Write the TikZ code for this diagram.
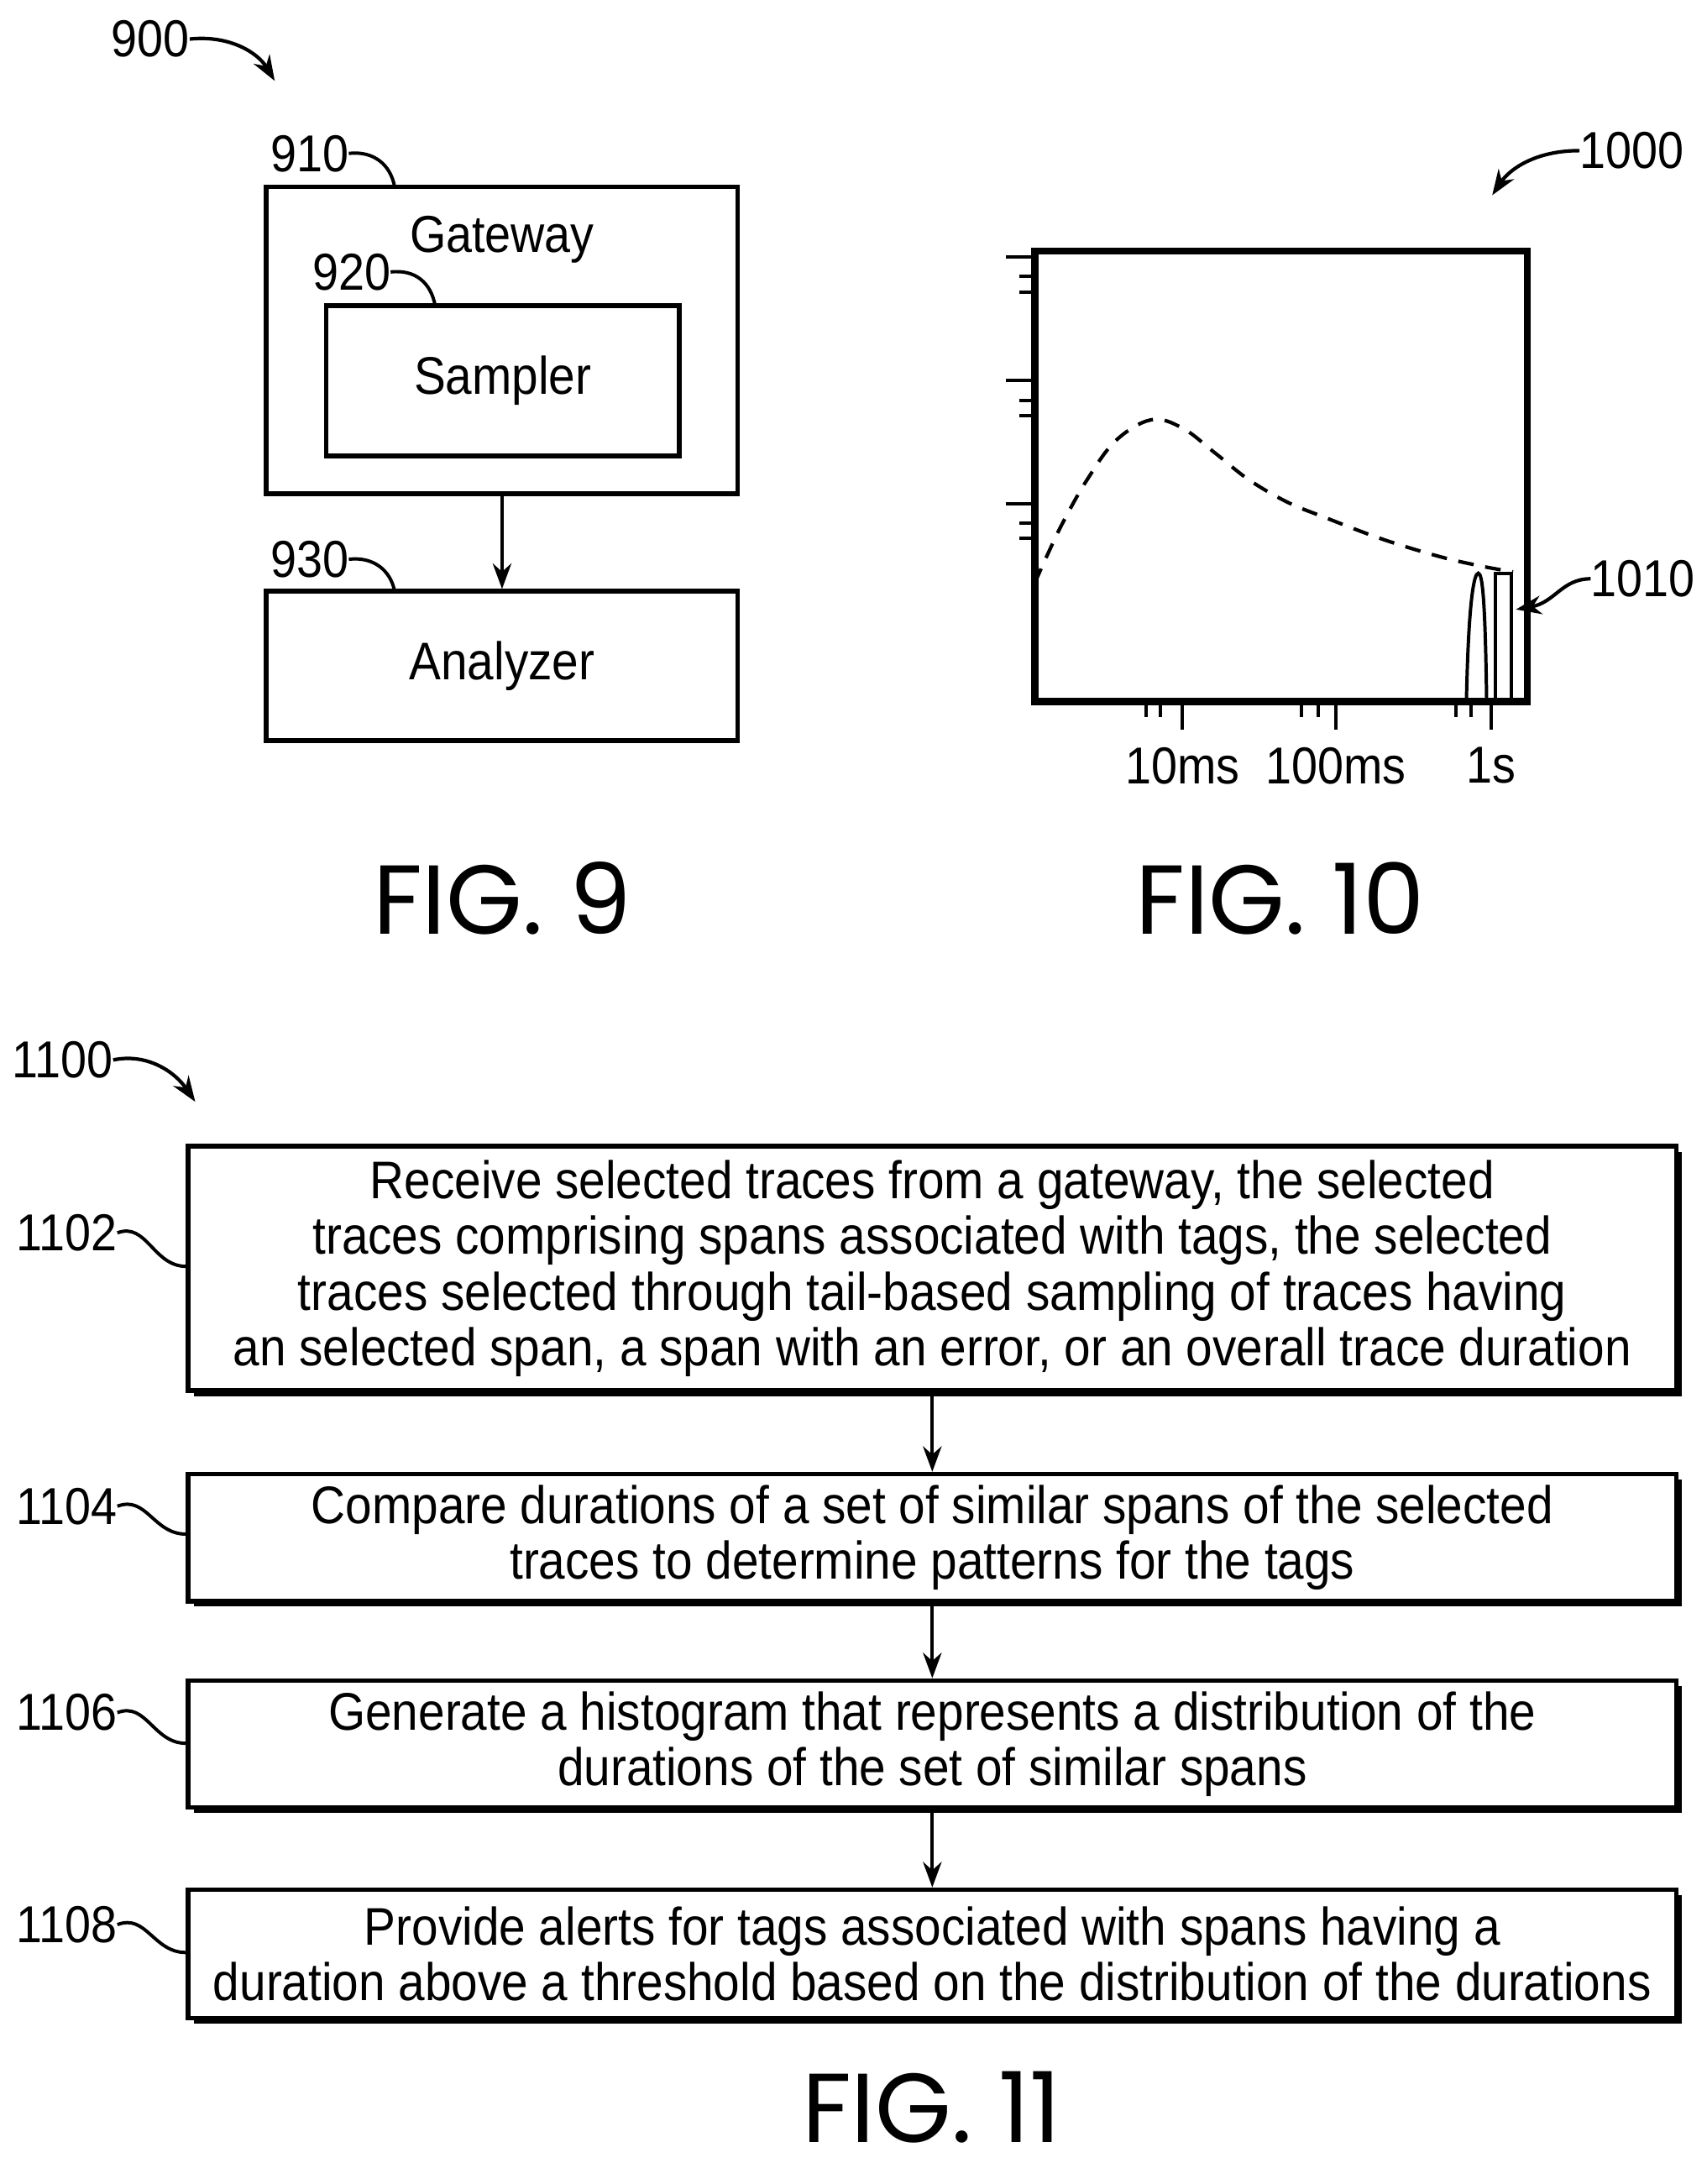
\documentclass[tikz,border=0pt]{standalone}
\usepackage{fontspec}
\setmainfont{Liberation Sans}[FakeStretch=0.9]
\newfontfamily\figfont{Poppins}
\usetikzlibrary{arrows.meta}
\begin{document}
\begin{tikzpicture}[x=0.05cm,y=-0.05cm,
  box/.style={draw,line width=4.8pt,inner sep=0pt,align=center,font=\fontsize{54}{57}\selectfont},
  lbl/.style={font=\fontsize{53}{57}\selectfont,inner sep=0pt},
  fig/.style={font=\figfont\fontsize{100}{110}\selectfont,inner sep=0pt,anchor=base},
  lead/.style={line width=3.4pt},
  tick/.style={line width=3.4pt},
  arr/.style={line width=3.6pt,-{Stealth[length=26pt,width=19pt]}},
  shadow/.style={fill=black}]
\useasboundingbox (0,0) rectangle (1224,1566);
% ---- FIG 9
\node[lbl] (l900) at (108,28) {900};
\coordinate (a900) at (197,58);
\draw[arr] (l900.east) .. controls (165,25) and (185,38) .. (a900);
\node[box,minimum width=338*0.05cm,minimum height=220*0.05cm] (gw) at (360,244) {};
\node[lbl] (gwt) at (360,172) {Gateway};
\node[box,minimum width=253*0.05cm,minimum height=108*0.05cm] (samp) at (360.5,273) {Sampler};
\node[box,minimum width=338*0.05cm,minimum height=107*0.05cm] (an) at (360,477.5) {Analyzer};
\draw[arr] (gw.south) -- (an.north);
\node[lbl] (l910) at (222,110) {910};
\draw[lead] (l910.east) .. controls (268,108) and (280,118) .. (283,134);
\node[lbl] (l920) at (252,195) {920};
\draw[lead] (l920.east) .. controls (298,193) and (309,203) .. (312,219);
\node[lbl] (l930) at (222,401) {930};
\draw[lead] (l930.east) .. controls (268,399) and (280,409) .. (283,424);
\node[fig] (f9) at (360,670) {FIG. 9};
% ---- FIG 10
\node[lbl] (l1000) at (1170,108) {1000};
\coordinate (a1000) at (1070,140);
\draw[arr] (l1000.west) .. controls (1100,108) and (1082,122) .. (a1000);
\node[draw,line width=7pt,minimum width=353*0.05cm,minimum height=323*0.05cm,inner sep=0pt] (chart) at (918.5,341.5) {};
\foreach \y in {184,273,361} \draw[tick] (721,\y) -- (742,\y);
\foreach \y in {198,209.5,287,298,375,386} \draw[tick] (731,\y) -- (742,\y);
\foreach \x in {848,958,1069} \draw[tick] (\x,503) -- (\x,523);
\foreach \x in {822,832,933,945,1044,1055} \draw[tick] (\x,503) -- (\x,514);
\node[lbl] (t10) at (848,549) {10ms};
\node[lbl] (t100) at (958,549) {100ms};
\node[lbl] (t1) at (1069,549) {1s};
\draw[line width=3.6pt,dash pattern=on 16pt off 12pt] plot[smooth,tension=0.6] coordinates {(742,418) (750.5,399) (762.5,374) (779.5,344) (800,316) (825.5,301) (848,307) (871.5,325) (895.5,344) (923,360) (950,371) (991,386.5) (1032,399) (1062.5,406) (1085,410)};
\draw[line width=3.4pt] (1051.5,503) .. controls (1053,430) and (1057,411) .. (1060,411) .. controls (1063,411) and (1065,430) .. (1066,503);
\draw[line width=3.4pt] (1072,503) -- (1072,411) -- (1084,411) -- (1084,503);
\node[lbl] (l1010) at (1178,415) {1010};
\coordinate (a1010) at (1087,437);
\draw[arr] (l1010.west) .. controls (1120,415) and (1115,432) .. (a1010);
\node[fig] (f10) at (918,670) {FIG. 10};
% ---- FIG 11
\node[lbl] (l1100) at (45,760) {1100};
\coordinate (a1100) at (140,790);
\draw[arr] (l1100.east) .. controls (105,755) and (125,768) .. (a1100);
\fill[shadow] (139,826) rectangle (1206,1001);
\node[box,fill=white,minimum width=1067*0.05cm,minimum height=175*0.05cm] (b1) at (668.5,909.5) {Receive selected traces from a gateway, the selected\\traces comprising spans associated with tags, the selected\\traces selected through tail-based sampling of traces having\\an selected span, a span with an error, or an overall trace duration};
\fill[shadow] (139,1061) rectangle (1206,1152);
\node[box,fill=white,minimum width=1067*0.05cm,minimum height=91*0.05cm] (b2) at (668.5,1102.5) {Compare durations of a set of similar spans of the selected\\traces to determine patterns for the tags};
\fill[shadow] (139,1209) rectangle (1206,1300);
\node[box,fill=white,minimum width=1067*0.05cm,minimum height=91*0.05cm] (b3) at (668.5,1250.5) {Generate a histogram that represents a distribution of the\\durations of the set of similar spans};
\fill[shadow] (139,1359) rectangle (1206,1451);
\node[box,fill=white,minimum width=1067*0.05cm,minimum height=92*0.05cm] (b4) at (668.5,1401) {Provide alerts for tags associated with spans having a\\duration above a threshold based on the distribution of the durations};
\draw[arr] (b1.south) -- (b2.north);
\draw[arr] (b2.south) -- (b3.north);
\draw[arr] (b3.south) -- (b4.north);
\node[lbl] (l1102) at (48,884) {1102};
\draw[lead] (l1102.east) .. controls (105,876) and (110,908) .. (b1.west |- 0,908);
\node[lbl] (l1104) at (48,1080) {1104};
\draw[lead] (l1104.east) .. controls (105,1072) and (110,1100) .. (b2.west |- 0,1100);
\node[lbl] (l1106) at (48,1228) {1106};
\draw[lead] (l1106.east) .. controls (105,1220) and (110,1250) .. (b3.west |- 0,1250);
\node[lbl] (l1108) at (48,1380) {1108};
\draw[lead] (l1108.east) .. controls (105,1372) and (110,1400) .. (b4.west |- 0,1400);
\node[fig] (f11) at (668,1536) {FIG. 11};
\end{tikzpicture}
\end{document}
